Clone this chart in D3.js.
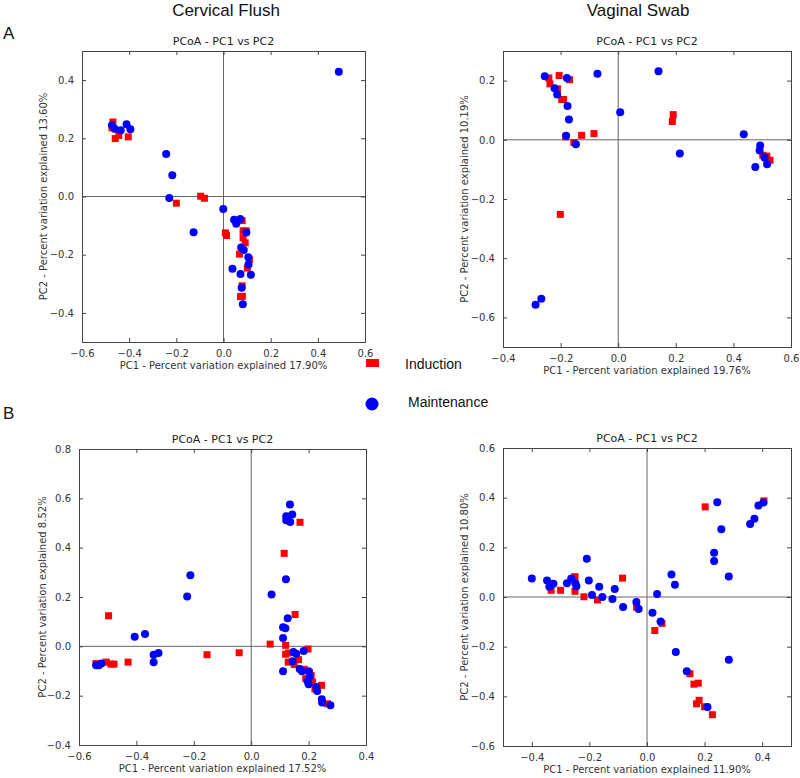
<!DOCTYPE html>
<html><head><meta charset="utf-8">
<script src="https://cdn.jsdelivr.net/npm/d3@7"></script>
<style>body{margin:0;background:#fff}svg{display:block}</style>
</head><body>
<svg id="c" width="800" height="778"></svg>
<script>
// ---- data ----
const cfInduction = [[-0.469,0.256],[-0.473,0.236],[-0.459,0.199],[-0.444,0.210],[-0.404,0.205],[-0.200,-0.023],[-0.097,0.001],[-0.081,-0.006],[0.008,-0.125],[0.013,-0.134],[0.079,-0.083],[0.083,-0.118],[0.096,-0.118],[0.083,-0.142],[0.092,-0.159],[0.068,-0.198],[0.110,-0.216],[0.101,-0.246],[0.079,-0.307],[0.072,-0.344],[0.080,-0.343]];
const cfMaintenance = [[0.489,0.429],[-0.473,0.245],[-0.462,0.233],[-0.436,0.228],[-0.411,0.248],[-0.395,0.231],[-0.243,0.146],[-0.217,0.073],[-0.230,-0.005],[-0.001,-0.043],[-0.127,-0.123],[0.045,-0.080],[0.054,-0.094],[0.071,-0.077],[0.097,-0.124],[0.075,-0.175],[0.086,-0.184],[0.105,-0.209],[0.106,-0.234],[0.038,-0.248],[0.072,-0.266],[0.116,-0.269],[0.077,-0.314],[0.082,-0.370]];
const vsInduction = [[-0.241,0.209],[-0.237,0.189],[-0.211,0.172],[-0.205,0.217],[-0.169,0.203],[-0.196,0.136],[-0.190,0.136],[-0.182,0.010],[-0.154,-0.009],[-0.127,0.015],[-0.084,0.021],[0.188,0.062],[0.191,0.085],[0.502,-0.052],[0.516,-0.055],[0.527,-0.069],[-0.201,-0.252]];
const vsMaintenance = [[-0.255,0.215],[-0.221,0.174],[-0.212,0.153],[-0.178,0.209],[-0.176,0.114],[-0.171,0.069],[-0.181,0.014],[-0.147,-0.015],[-0.072,0.223],[0.007,0.093],[0.140,0.232],[0.214,-0.046],[0.436,0.019],[0.493,-0.019],[0.491,-0.036],[0.508,-0.060],[0.517,-0.083],[0.476,-0.092],[-0.267,-0.537],[-0.287,-0.557]];
const cfBInduction = [[0.170,0.503],[0.115,0.377],[-0.497,0.124],[-0.429,-0.064],[-0.478,-0.072],[-0.489,-0.072],[-0.505,-0.064],[-0.541,-0.070],[-0.154,-0.034],[-0.042,-0.026],[0.066,0.009],[0.153,0.129],[0.120,0.004],[0.120,-0.032],[0.130,-0.027],[0.129,-0.064],[0.150,-0.074],[0.165,-0.054],[0.198,-0.011],[0.185,-0.093],[0.203,-0.106],[0.209,-0.118],[0.190,-0.131],[0.214,-0.145],[0.222,-0.172],[0.245,-0.158],[0.266,-0.233]];
const cfBMaintenance = [[0.135,0.575],[0.122,0.527],[0.143,0.534],[0.122,0.511],[0.136,0.504],[0.121,0.272],[0.071,0.210],[-0.212,0.288],[-0.223,0.202],[-0.406,0.039],[-0.370,0.050],[-0.340,-0.034],[-0.323,-0.027],[-0.340,-0.065],[-0.522,-0.070],[-0.540,-0.077],[-0.531,-0.077],[0.127,0.114],[0.111,0.077],[0.119,0.073],[0.111,0.034],[0.147,-0.023],[0.157,-0.030],[0.144,-0.060],[0.183,-0.019],[0.111,-0.101],[0.169,-0.092],[0.177,-0.101],[0.200,-0.101],[0.204,-0.122],[0.197,-0.142],[0.200,-0.154],[0.227,-0.165],[0.230,-0.181],[0.246,-0.215],[0.247,-0.228],[0.276,-0.239]];
const vsBInduction = [[-0.333,0.027],[-0.300,0.027],[-0.250,0.082],[-0.250,0.023],[-0.219,0.001],[-0.172,-0.012],[-0.085,0.076],[-0.036,-0.041],[0.202,0.363],[0.406,0.387],[0.052,-0.106],[0.027,-0.135],[0.149,-0.309],[0.163,-0.351],[0.178,-0.347],[0.181,-0.416],[0.172,-0.430],[0.200,-0.442],[0.227,-0.474]];
const vsBMaintenance = [[-0.400,0.075],[-0.347,0.066],[-0.339,0.041],[-0.325,0.053],[-0.278,0.055],[-0.263,0.074],[-0.249,0.055],[-0.245,0.043],[-0.209,0.154],[-0.202,0.066],[-0.191,0.008],[-0.166,0.041],[-0.155,0.000],[-0.120,-0.008],[-0.112,0.032],[-0.083,-0.040],[-0.037,-0.020],[-0.029,-0.048],[0.035,0.012],[0.085,0.091],[0.097,0.049],[0.244,0.382],[0.258,0.273],[0.233,0.178],[0.233,0.145],[0.284,0.083],[0.358,0.294],[0.373,0.315],[0.387,0.368],[0.404,0.381],[0.019,-0.063],[0.047,-0.099],[0.100,-0.221],[0.284,-0.253],[0.138,-0.299],[0.210,-0.443]];

const xTicksCF = [-0.6,-0.4,-0.2,0.0,0.2,0.4,0.6];
const yTicksCF = [-0.4,-0.2,0.0,0.2,0.4];
const xTicksVS = [-0.4,-0.2,0.0,0.2,0.4,0.6];
const yTicksVS = [-0.6,-0.4,-0.2,0.0,0.2];
const xTicksCFB = [-0.6,-0.4,-0.2,0.0,0.2,0.4];
const yTicksCFB = [-0.4,-0.2,0.0,0.2,0.4,0.6,0.8];
const xTicksVSB = [-0.4,-0.2,0.0,0.2,0.4];
const yTicksVSB = [-0.6,-0.4,-0.2,0.0,0.2,0.4,0.6];

const columnHeaders = ["Cervical Flush","Vaginal Swab"];
const rowLabels = ["A","B"];
const legendLabels = ["Induction","Maintenance"];
const plotTitle = "PCoA - PC1 vs PC2";

const RED = "#ff0000", BLUE = "#0000ff";
const svg = d3.select("#c");

const panels = [
  {box:[82,51,365,342], xd:[-0.6,0.6], yd:[-0.5,0.5], xt:xTicksCF, yt:yTicksCF, ind:cfInduction, mnt:cfMaintenance, xl:"PC1 - Percent variation explained 17.90%", yl:"PC2 - Percent variation explained 13.60%", ylx:44},
  {box:[503,51,791,347], xd:[-0.4,0.6], yd:[-0.7,0.3], xt:xTicksVS, yt:yTicksVS, ind:vsInduction, mnt:vsMaintenance, xl:"PC1 - Percent variation explained 19.76%", yl:"PC2 - Percent variation explained 10.19%", ylx:465},
  {box:[79,449,366,745], xd:[-0.6,0.4], yd:[-0.4,0.8], xt:xTicksCFB, yt:yTicksCFB, ind:cfBInduction, mnt:cfBMaintenance, xl:"PC1 - Percent variation explained 17.52%", yl:"PC2 - Percent variation explained 8.52%", ylx:43},
  {box:[503,448,791,746], xd:[-0.5,0.5], yd:[-0.6,0.6], xt:xTicksVSB, yt:yTicksVSB, ind:vsBInduction, mnt:vsBMaintenance, xl:"PC1 - Percent variation explained 11.90%", yl:"PC2 - Percent variation explained 10.80%", ylx:465}
];

const fmt = d => d3.format(".1f")(d).replace("-", "\u2212");
const tickFont = "DejaVu Sans, sans-serif";

panels.forEach(p => {
  const [x0,y0,x1,y1] = p.box;
  const x = d3.scaleLinear().domain(p.xd).range([x0,x1]);
  const y = d3.scaleLinear().domain(p.yd).range([y1,y0]);
  const g = svg.append("g");

  // zero lines
  g.append("line").attr("x1",x0).attr("x2",x1).attr("y1",y(0)).attr("y2",y(0)).attr("stroke","#666").attr("stroke-width",1);
  g.append("line").attr("x1",x(0)).attr("x2",x(0)).attr("y1",y0).attr("y2",y1).attr("stroke","#666").attr("stroke-width",1);

  // axes (ticks inward)
  const axB = d3.axisBottom(x).tickValues(p.xt).tickSize(-4).tickPadding(8).tickFormat(fmt);
  const axT = d3.axisTop(x).tickValues(p.xt).tickSize(-4).tickFormat("");
  const axL = d3.axisLeft(y).tickValues(p.yt).tickSize(-4).tickPadding(8).tickFormat(fmt);
  const axR = d3.axisRight(y).tickValues(p.yt).tickSize(-4).tickFormat("");
  [[axB,`translate(0,${y1})`],[axT,`translate(0,${y0})`],[axL,`translate(${x0},0)`],[axR,`translate(${x1},0)`]].forEach(([a,t]) => {
    const ag = g.append("g").attr("transform",t).call(a);
    ag.select(".domain").attr("stroke","#444");
    ag.selectAll(".tick line").attr("stroke","#444");
    ag.selectAll("text").attr("font-family",tickFont).attr("font-size",10).attr("fill","#333");
  });

  // points
  g.append("g").selectAll("rect").data(p.ind).join("rect")
    .attr("x",d=>x(d[0])-3.5).attr("y",d=>y(d[1])-3.5).attr("width",7).attr("height",7).attr("fill",RED);
  g.append("g").selectAll("circle").data(p.mnt).join("circle")
    .attr("cx",d=>x(d[0])).attr("cy",d=>y(d[1])).attr("r",4).attr("fill",BLUE);

  // title and labels
  g.append("text").attr("x",(x0+x1)/2).attr("y",y0-6).attr("text-anchor","middle")
    .attr("font-family",tickFont).attr("font-size",11).attr("fill","#222").text(plotTitle);
  g.append("text").attr("x",(x0+x1)/2).attr("y",y1+27).attr("text-anchor","middle")
    .attr("font-family",tickFont).attr("font-size",10).attr("fill","#333").text(p.xl);
  g.append("text").attr("transform",`translate(${p.ylx},${(y0+y1)/2}) rotate(-90)`).attr("text-anchor","middle")
    .attr("dominant-baseline","middle").attr("font-family",tickFont).attr("font-size",10).attr("fill","#333").text(p.yl);
});

// column headers
const hf = "Liberation Sans, Arial, sans-serif";
svg.append("text").attr("x",226).attr("y",16).attr("text-anchor","middle").attr("font-family",hf).attr("font-size",17).attr("fill","#111").text(columnHeaders[0]);
svg.append("text").attr("x",638).attr("y",16).attr("text-anchor","middle").attr("font-family",hf).attr("font-size",17).attr("fill","#111").text(columnHeaders[1]);
svg.append("text").attr("x",3).attr("y",39).attr("font-family",hf).attr("font-size",17).attr("fill","#111").text(rowLabels[0]);
svg.append("text").attr("x",3).attr("y",419).attr("font-family",hf).attr("font-size",17).attr("fill","#111").text(rowLabels[1]);

// legend
svg.append("rect").attr("x",366).attr("y",359).attr("width",13).attr("height",8).attr("fill",RED);
svg.append("text").attr("x",405).attr("y",369).attr("font-family",hf).attr("font-size",14).attr("fill","#111").text(legendLabels[0]);
svg.append("circle").attr("cx",372).attr("cy",404).attr("r",6.5).attr("fill",BLUE);
svg.append("text").attr("x",408).attr("y",407).attr("font-family",hf).attr("font-size",14).attr("fill","#111").text(legendLabels[1]);
</script>
</body></html>
